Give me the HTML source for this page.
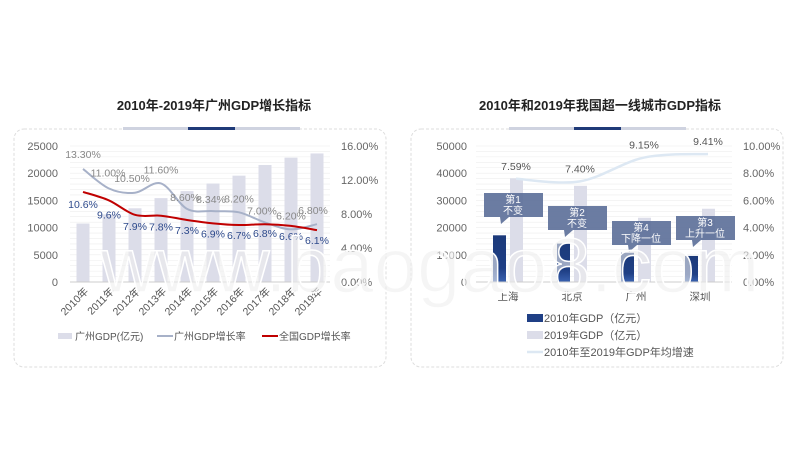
<!DOCTYPE html>
<html><head><meta charset="utf-8">
<style>
html,body{margin:0;padding:0;background:#fff;}
body{width:800px;height:450px;overflow:hidden;position:relative;font-family:"Liberation Sans","Noto Sans CJK SC",sans-serif;}
svg{position:absolute;left:0;top:0;}
text{font-family:"Liberation Sans","Noto Sans CJK SC",sans-serif;}
</style></head>
<body>
<svg id="s" width="800" height="450"></svg>
<script>
const years=["2010年","2011年","2012年","2013年","2014年","2015年","2016年","2017年","2018年","2019年"];
const gzGdp=[10748,12423,13551,15420,16707,18100,19547,21503,22859,23629];
const gzRate=[13.3,11.0,10.5,11.6,8.6,8.34,8.2,7.0,6.2,6.8];
const cnRate=[10.6,9.6,7.9,7.8,7.3,6.9,6.7,6.8,6.6,6.1];
const leftTicks=[0,5000,10000,15000,20000,25000];
const rightTicks=[0,4,8,12,16];
const cities=["上海","北京","广州","深圳"];
const gdp2010=[17166,14114,10748,9581];
const gdp2019=[38155,35371,23629,26927];
const cityRate=[7.59,7.40,9.15,9.41];
const cityLeftTicks=[0,10000,20000,30000,40000,50000];
const cityRightTicks=[0,2,4,6,8,10];
const callouts=[["第1","不变"],["第2","不变"],["第4","下降一位"],["第3","上升一位"]];

const NS="http://www.w3.org/2000/svg";
const svg=document.getElementById('s');
function el(tag,attrs,parent,txt){const e=document.createElementNS(NS,tag);for(const k in attrs)e.setAttribute(k,attrs[k]);if(txt!==undefined)e.textContent=txt;(parent||svg).appendChild(e);return e;}
function smooth(pts){let d="M"+pts[0][0]+","+pts[0][1];for(let i=0;i<pts.length-1;i++){const p0=pts[i-1]||pts[i],p1=pts[i],p2=pts[i+1],p3=pts[i+2]||p2;const c1x=p1[0]+(p2[0]-p0[0])/6,c1y=p1[1]+(p2[1]-p0[1])/6,c2x=p2[0]-(p3[0]-p1[0])/6,c2y=p2[1]-(p3[1]-p1[1])/6;d+=` C${c1x},${c1y} ${c2x},${c2y} ${p2[0]},${p2[1]}`;}return d;}

function panel(x,name,title,tx){
  const g=el('g',{},svg);
  const t=el('text',{x:tx,y:110,'text-anchor':'middle','font-size':13,'font-weight':'bold',fill:'#222'},g,title);
  
  el('rect',{x:x,y:129,width:372,height:238,rx:10,fill:'none',stroke:'#ddd','stroke-dasharray':'3,2'},g);
  el('rect',{x:tx-91,y:127,width:177,height:3,fill:'#cfd3e0'},g);
  el('rect',{x:tx-26,y:127,width:47,height:3,fill:'#1f3a78'},g);
  return g;
}
const gL=panel(14,'left-panel','2010年-2019年广州GDP增长指标',214);
const gR=panel(411,'right-panel','2010年和2019年我国超一线城市GDP指标',600);

// ---- Left chart
const L={x0:70,x1:330,y0:282,y1:146};
const ly=v=>L.y0-(v/25000)*(L.y0-L.y1);
const ry=v=>L.y0-(v/16)*(L.y0-L.y1);
const step=(L.x1-L.x0)/10;
const lx=i=>L.x0+step*(i+0.5);
for(let v=0;v<=25000;v+=1000){el('line',{x1:L.x0,x2:L.x1,y1:ly(v),y2:ly(v),stroke:'#eee','stroke-width':0.6},gL);}
leftTicks.forEach(v=>{const t=el('text',{x:58,y:ly(v)+4,'text-anchor':'end','font-size':11,fill:'#666'},gL,v);});
rightTicks.forEach(v=>{const t=el('text',{x:341,y:ry(v)+4,'font-size':11,fill:'#666'},gL,v.toFixed(2)+'%');});
gzGdp.forEach((v,i)=>{const r=el('rect',{x:lx(i)-6.5,y:ly(v),width:13,height:L.y0-ly(v),fill:'#dcdde9'},gL);});
el('line',{x1:L.x0,x2:L.x1,y1:L.y0,y2:L.y0,stroke:'#ccc'},gL);
const p1=el('path',{d:smooth(gzRate.map((v,i)=>[lx(i),ry(v)])),fill:'none',stroke:'#a7b1c8','stroke-width':2},gL);

const p2=el('path',{d:smooth(cnRate.map((v,i)=>[lx(i),ry(v)])),fill:'none',stroke:'#c00000','stroke-width':2},gL);

const gzOff=[-11,-12,-11,-10,-8,-8,-10,-8,-10,-10];
const gzDx=[0,-1,-3,0,-2,-2,0,-3,0,-4];
gzRate.forEach((v,i)=>{const t=el('text',{x:lx(i)+gzDx[i],y:ry(v)+gzOff[i],'text-anchor':'middle','font-size':10.5,fill:'#888'},gL,v.toFixed(2)+'%');});
const cnOff=[16,18,15,15,14,14,14,13,14,14];
cnRate.forEach((v,i)=>{const t=el('text',{x:lx(i),y:ry(v)+cnOff[i],'text-anchor':'middle','font-size':10.5,fill:'#2e4a8c'},gL,v+'%');});
years.forEach((y,i)=>{const t=el('text',{x:0,y:0,'text-anchor':'end','font-size':10.5,fill:'#555',transform:`translate(${lx(i)+6},${L.y0+10}) rotate(-45)`},gL,y);});
const lg=el('g',{},gL);
el('rect',{x:58,y:333,width:14,height:6,fill:'#dcdde9'},lg);el('text',{x:75,y:340,'font-size':10,fill:'#555'},lg,'广州GDP(亿元)');
el('line',{x1:157,x2:173,y1:336,y2:336,stroke:'#a7b1c8','stroke-width':2},lg);el('text',{x:174,y:340,'font-size':10,fill:'#555'},lg,'广州GDP增长率');
el('line',{x1:262,x2:278,y1:336,y2:336,stroke:'#c00000','stroke-width':2},lg);el('text',{x:279,y:340,'font-size':10,fill:'#555'},lg,'全国GDP增长率');

// ---- Right chart
const R={x0:476,x1:732,y0:282,y1:146};
const cy=v=>R.y0-(v/50000)*(R.y0-R.y1);
const cry=v=>R.y0-(v/10)*(R.y0-R.y1);
const cstep=(R.x1-R.x0)/4;
const cx=i=>R.x0+cstep*(i+0.5);
for(let v=0;v<=50000;v+=2000){el('line',{x1:R.x0,x2:R.x1,y1:cy(v),y2:cy(v),stroke:'#eee','stroke-width':0.6},gR);}
cityLeftTicks.forEach(v=>{const t=el('text',{x:467,y:cy(v)+4,'text-anchor':'end','font-size':11,fill:'#666'},gR,v);});
cityRightTicks.forEach(v=>{const t=el('text',{x:743,y:cry(v)+4,'font-size':11,fill:'#666'},gR,v.toFixed(2)+'%');});
el('defs',{},gR).innerHTML='<linearGradient id="dg" x1="0" y1="0" x2="0" y2="1"><stop offset="0" stop-color="#1c3a7a"/><stop offset="0.7" stop-color="#1f3f85"/><stop offset="1" stop-color="#3a62b0"/></linearGradient>';
gdp2010.forEach((v,i)=>{const r=el('rect',{x:cx(i)-15,y:cy(v),width:13,height:R.y0-cy(v),fill:'url(#dg)'},gR);});
gdp2019.forEach((v,i)=>{const r=el('rect',{x:cx(i)+2,y:cy(v),width:13,height:R.y0-cy(v),fill:'#dcdde9'},gR);});
el('line',{x1:R.x0,x2:R.x1,y1:R.y0,y2:R.y0,stroke:'#ccc'},gR);
const p3=el('path',{d:smooth(cityRate.map((v,i)=>[cx(i)+8,cry(v)])),fill:'none',stroke:'#dde8f3','stroke-width':2.5},gR);

cityRate.forEach((v,i)=>{const t=el('text',{x:cx(i)+8,y:cry(v)-9,'text-anchor':'middle','font-size':10.5,fill:'#555'},gR,v.toFixed(2)+'%');});
cities.forEach((c,i)=>{const t=el('text',{x:cx(i),y:300,'text-anchor':'middle','font-size':10.5,fill:'#555'},gR,c);});
const boxY=[193,206,221,216];
callouts.forEach((c,i)=>{const bx=cx(i)-24,by=boxY[i];const g=el('g',{},gR);
  el('path',{d:`M${bx},${by} h59 v24 h-34 l-8,7 l-1,-7 h-16 z`,fill:'#5b6e98','fill-opacity':0.9},g);
  el('text',{x:bx+29,y:by+10,'text-anchor':'middle','font-size':10,fill:'#fff'},g,c[0]);
  el('text',{x:bx+29,y:by+21,'text-anchor':'middle','font-size':10,fill:'#fff'},g,c[1]);});
const rg=el('g',{},gR);
el('rect',{x:527,y:314,width:16,height:8,fill:'#1f3f85'},rg);el('text',{x:544,y:322,'font-size':11,fill:'#555'},rg,'2010年GDP（亿元）');
el('rect',{x:527,y:331,width:16,height:8,fill:'#dcdde9'},rg);el('text',{x:544,y:339,'font-size':11,fill:'#555'},rg,'2019年GDP（亿元）');
el('line',{x1:527,x2:543,y1:352,y2:352,stroke:'#dde8f3','stroke-width':2.5},rg);el('text',{x:544,y:356,'font-size':11,fill:'#555'},rg,'2010年至2019年GDP年均增速');

const wm=el('text',{x:430,y:292,'text-anchor':'middle','font-size':78,fill:'#eeeeee','fill-opacity':0.6,stroke:'#ffffff','stroke-width':1.5},svg,'www.baogao8.com');

</script>
</body></html>
